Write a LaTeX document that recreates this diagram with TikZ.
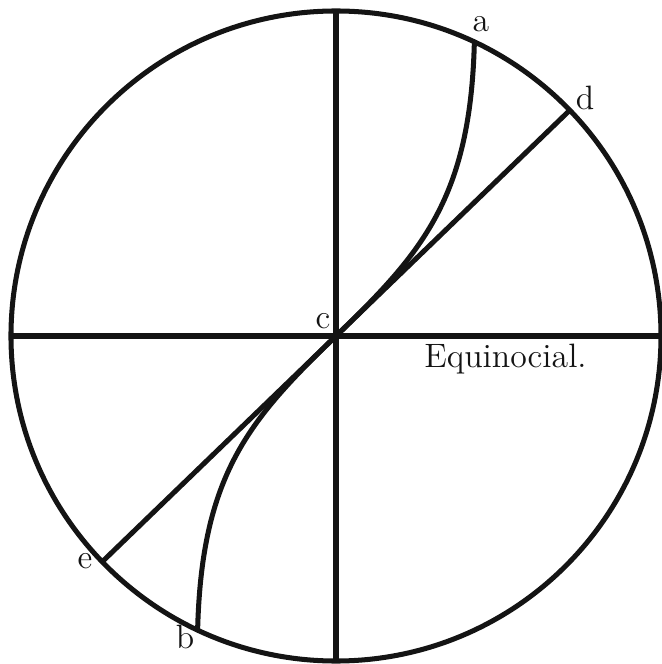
\documentclass[tikz,border=0pt]{standalone}
\usepackage{xcolor}
\definecolor{inkblack}{RGB}{20,20,20}
\usepackage{tikz}
\usetikzlibrary{calc}

\begin{document}
\begin{tikzpicture}[line width=2.2pt, inkblack,
    lbl/.style={font=\fontsize{14.8}{17}\selectfont, text=inkblack, inner sep=0pt, anchor=base}]
  \useasboundingbox (-5.169,-5.046) rectangle (5.015,5.169);

  % Points on the circle
  \coordinate (c) at (0,0);
  \coordinate (a) at (64.8:5);
  \coordinate (b) at (244.8:5);
  \coordinate (d) at (44:5);
  \coordinate (e) at (224:5);
  \coordinate (n) at (90:5);
  \coordinate (s) at (270:5);
  \coordinate (w) at (180:5);
  \coordinate (o) at (0:5);

  % Circle and diameters
  \draw (c) circle (5);
  \draw (n) -- (s);
  \draw (w) -- (o);
  \draw (d) -- (e);

  % Curve a - c - b
  \draw (a) .. controls ($(a)+(-0.06,-2.4)$) and (44:1.85) .. (c)
            .. controls (224:1.85) and ($(b)+(0.06,2.4)$) .. (b);

  % Labels
  \node[lbl] (lbla) at (2.23,4.68) {a};
  \node[lbl] (lbld) at (3.83,3.48) {d};
  \node[lbl] (lblc) at (-0.2,0.108) {c};
  \node[lbl] (lble) at (-3.86,-3.58) {e};
  \node[lbl] (lblb) at (-2.32,-4.80) {b};
  \node[lbl, anchor=base west] (equin) at (1.32,-0.49) {Equinocial.};
\end{tikzpicture}
\end{document}
